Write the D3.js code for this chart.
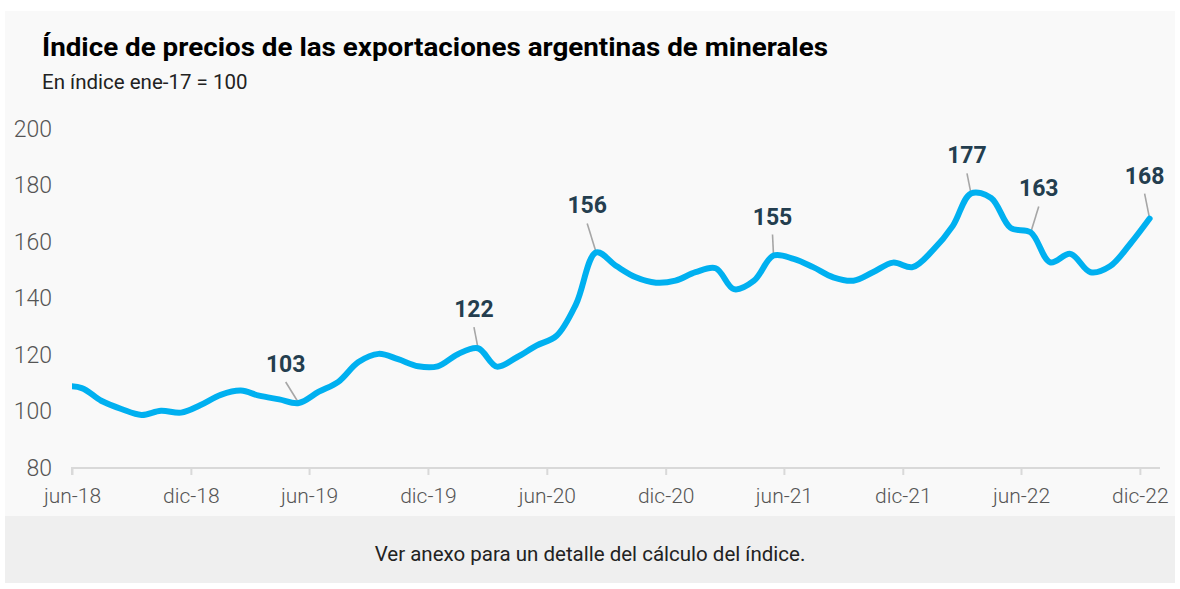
<!DOCTYPE html>
<html>
<head>
<meta charset="utf-8">
<script src="https://cdn.jsdelivr.net/npm/d3@7"></script>
<style>
  body { margin: 0; background: #ffffff; }
  text { font-family: Roboto, "Noto Sans", sans-serif; }
</style>
</head>
<body>
<script>
// serie mensual (índice ene-17 = 100)
const months = [
  'may-18', 'jun-18', 'jul-18', 'ago-18', 'sep-18', 'oct-18', 'nov-18', 'dic-18',
  'ene-19', 'feb-19', 'mar-19', 'abr-19', 'may-19', 'jun-19', 'jul-19', 'ago-19',
  'sep-19', 'oct-19', 'nov-19', 'dic-19', 'ene-20', 'feb-20', 'mar-20', 'abr-20',
  'may-20', 'jun-20', 'jul-20', 'ago-20', 'sep-20', 'oct-20', 'nov-20', 'dic-20',
  'ene-21', 'feb-21', 'mar-21', 'abr-21', 'may-21', 'jun-21', 'jul-21', 'ago-21',
  'sep-21', 'oct-21', 'nov-21', 'dic-21', 'ene-22', 'feb-22', 'mar-22', 'abr-22',
  'may-22', 'jun-22', 'jul-22', 'ago-22', 'sep-22', 'oct-22', 'nov-22', 'dic-22'
];
const values = [
  109.0, 108.3, 103.8, 100.9, 98.8, 100.3, 99.6, 102.3,
  105.9, 107.4, 105.6, 104.3, 103.0, 107.0, 110.5, 117.5,
  120.4, 118.5, 116.0, 116.0, 120.3, 122.4, 115.9, 119.2,
  123.3, 126.8, 138.0, 156.3, 151.5, 147.5, 145.6, 146.3,
  149.3, 150.7, 143.3, 146.3, 155.2, 154.0, 151.1, 147.5,
  146.3, 149.3, 152.7, 151.1, 157.0, 165.7, 177.2, 175.6,
  165.0, 163.4, 152.8, 155.8, 149.3, 151.4, 159.3, 168.3
];
const tickLabels = ['jun-18', 'dic-18', 'jun-19', 'dic-19', 'jun-20', 'dic-20', 'jun-21', 'dic-21', 'jun-22', 'dic-22'];
const yTicks = [80, 100, 120, 140, 160, 180, 200];
const labeled = ['may-19', 'feb-20', 'ago-20', 'may-21', 'mar-22', 'jun-22', 'dic-22'];
// where the leader line starts, relative to the point
const labelOffsets = [[-13, -21], [-4, -21], [-9, -29], [-1, -21], [-4, -20], [8, -26], [-5, -25]];

const mesNum = { ene: 0, feb: 1, mar: 2, abr: 3, may: 4, jun: 5, jul: 6, ago: 7, sep: 8, oct: 9, nov: 10, dic: 11 };
const toDate = (m, day) => new Date(2000 + +m.slice(4), mesNum[m.slice(0, 3)], day);

const data = months.map((m, i) => ({ month: m, date: toDate(m, 16), value: values[i] }));

const width = 1180, height = 589;

const svg = d3.select('body').append('svg')
    .attr('width', width)
    .attr('height', height);

// fondo del panel y pie
svg.append('rect').attr('x', 5).attr('y', 11).attr('width', 1170).attr('height', 505).attr('fill', '#f9f9f9');
svg.append('rect').attr('x', 5).attr('y', 516).attr('width', 1170).attr('height', 67).attr('fill', '#efefef');

svg.append('text')
    .attr('x', 42).attr('y', 56)
    .attr('font-size', 25).attr('font-weight', 700).attr('fill', '#000')
    .attr('textLength', 786).attr('lengthAdjust', 'spacingAndGlyphs')
    .text('Índice de precios de las exportaciones argentinas de minerales');

svg.append('text')
    .attr('x', 42).attr('y', 89)
    .attr('font-size', 20.5).attr('font-weight', 400).attr('fill', '#222')
    .text('En índice ene-17 = 100');

svg.append('text')
    .attr('x', 590).attr('y', 561)
    .attr('text-anchor', 'middle')
    .attr('font-size', 20.5).attr('fill', '#222')
    .text('Ver anexo para un detalle del cálculo del índice.');

let x = d3.scaleTime()
    .domain([new Date(2018, 5, 1), new Date(2023, 0, 1)])
    .range([72, 1160]);

let y = d3.scaleLinear()
    .domain([80, 200])
    .range([468, 129]);

// eje x
const tickDates = tickLabels.map(t => toDate(t, 1));
const xAxis = d3.axisBottom(x)
    .tickValues(tickDates)
    .tickFormat((d, i) => tickLabels[i])
    .tickSize(7)
    .tickPadding(13);

const gx = svg.append('g')
    .attr('transform', 'translate(0,' + y(80) + ')')
    .call(xAxis);
gx.select('.domain').attr('stroke', '#d9d9d9').attr('stroke-width', 2)
    .attr('d', 'M' + x.range()[0] + ',7V0H' + x.range()[1]);
gx.selectAll('.tick line').attr('stroke', '#d9d9d9').attr('stroke-width', 2);
gx.selectAll('.tick text')
    .attr('font-size', 21).attr('fill', '#555').attr('font-weight', 300)
    .attr('font-family', 'Roboto, sans-serif');

// eje y (solo etiquetas)
const yAxis = d3.axisLeft(y).tickValues(yTicks).tickSize(0).tickPadding(0);
const gy = svg.append('g')
    .attr('transform', 'translate(52,0)')
    .call(yAxis);
gy.select('.domain').remove();
gy.selectAll('.tick text')
    .attr('font-size', 23).attr('fill', '#555').attr('font-weight', 300)
    .attr('font-family', 'Roboto, sans-serif');

svg.append('clipPath').attr('id', 'plot')
  .append('rect')
    .attr('x', x.range()[0]).attr('y', 0)
    .attr('width', x.range()[1] - x.range()[0]).attr('height', height);

// anotaciones
const notes = labeled.map((m, i) => {
  const d = data.find(e => e.month === m);
  return { d: d, dx: labelOffsets[i][0], dy: labelOffsets[i][1] };
});

svg.selectAll('line.leader')
  .data(notes)
  .join('line')
    .attr('class', 'leader')
    .attr('x1', n => x(n.d.date) + n.dx)
    .attr('y1', n => y(n.d.value) + n.dy)
    .attr('x2', n => x(n.d.date))
    .attr('y2', n => y(n.d.value))
    .attr('stroke', '#a6a6a6')
    .attr('stroke-width', 1.6);

const line = d3.line()
    .x(d => x(d.date))
    .y(d => y(d.value))
    .curve(d3.curveCatmullRom.alpha(0.5));

svg.append('path')
    .datum(data)
    .attr('clip-path', 'url(#plot)')
    .attr('fill', 'none')
    .attr('stroke', '#00b0f0')
    .attr('stroke-width', 6)
    .attr('stroke-linecap', 'round')
    .attr('stroke-linejoin', 'round')
    .attr('d', line);

svg.selectAll('text.note')
  .data(notes)
  .join('text')
    .attr('class', 'note')
    .attr('x', n => x(n.d.date) + n.dx)
    .attr('y', n => y(n.d.value) + n.dy - 10)
    .attr('text-anchor', 'middle')
    .attr('font-size', 23).attr('font-weight', 700).attr('fill', '#243e4f')
    .text(n => d3.format('.0f')(n.d.value));
</script>
</body>
</html>
